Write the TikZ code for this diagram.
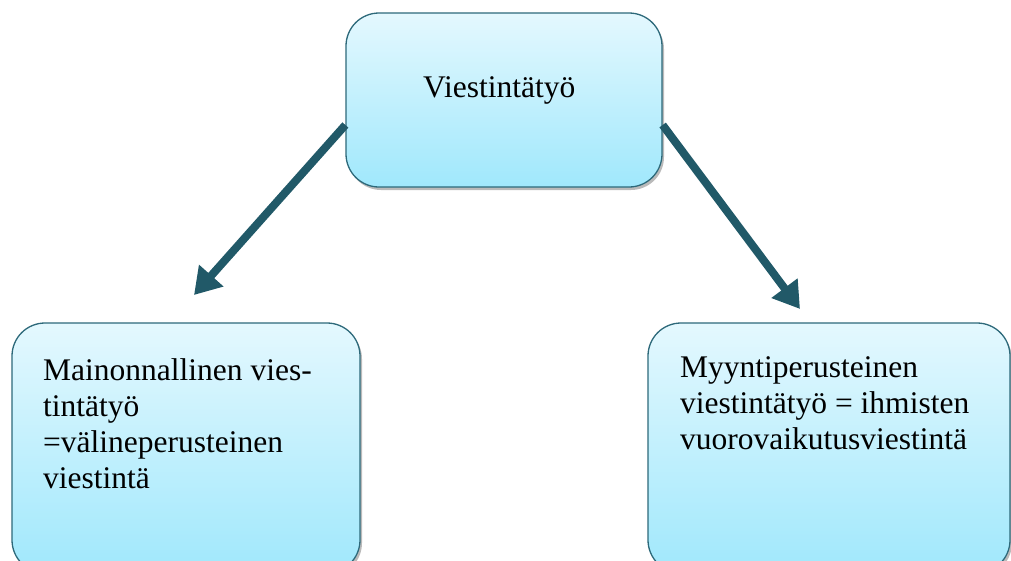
\documentclass[tikz,border=0pt]{standalone}
\usepackage{fontspec}
\setmainfont{Liberation Serif}
\usetikzlibrary{arrows.meta,shadows}
\definecolor{arrowc}{RGB}{33,89,104}
\definecolor{edgec}{RGB}{45,105,122}
\definecolor{topc}{RGB}{228,248,254}
\definecolor{botc}{RGB}{160,232,252}
\tikzset{
  boxstyle/.style={draw=edgec, line width=1.3pt, rounded corners=33pt,
    top color=topc, bottom color=botc, inner sep=0pt,
    drop shadow={shadow xshift=2pt, shadow yshift=-3pt, fill=black!45, opacity=0.6}},
  txt/.style={inner sep=0pt, align=left, font=\fontsize{31.5}{36}\selectfont},
  conn/.style={draw=arrowc, line width=8pt, -{Triangle[length=26pt,width=31pt]}}
}
\begin{document}
\begin{tikzpicture}[x=1pt,y=-1pt]
\useasboundingbox (0,0) rectangle (1011,560);
\clip (0,0) rectangle (1011,560);
\node[boxstyle, minimum width=316pt, minimum height=174pt] (top) at (504,100) {};
\node[boxstyle, minimum width=348pt, minimum height=250pt] (left) at (186,448) {};
\node[boxstyle, minimum width=362pt, minimum height=250pt] (right) at (829,448) {};
\node[txt, anchor=base west] (ttop) at (423,97) {Viestintätyö};
\node[txt, anchor=north west] (tleft) at (43,358) {Mainonnallinen vies-\\tintätyö\\=välineperusteinen\\viestintä};
\node[txt, anchor=north west] (tright) at (680,356) {Myyntiperusteinen\\viestintätyö = ihmisten\\vuorovaikutusviestintä};
\coordinate (s1) at (top.west |- 0,125);
\coordinate (s2) at (top.east |- 0,125);
\coordinate (e1) at (194,295);
\coordinate (e2) at (800,309);
\draw[conn] (s1) -- (e1);
\draw[conn] (s2) -- (e2);
\end{tikzpicture}
\end{document}
